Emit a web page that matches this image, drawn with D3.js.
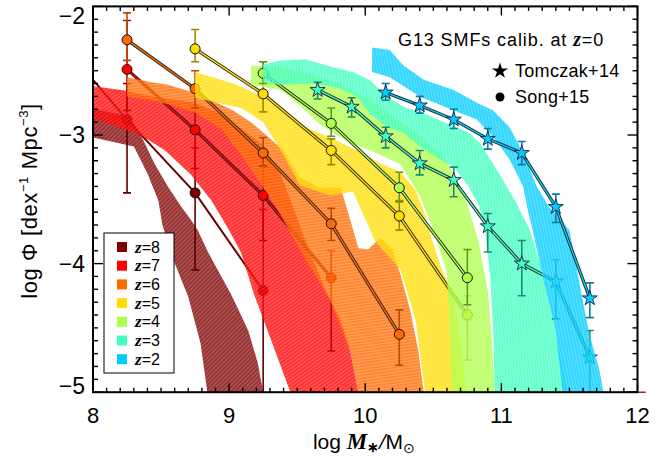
<!DOCTYPE html>
<html><head><meta charset="utf-8">
<script src="https://cdnjs.cloudflare.com/ajax/libs/d3/7.8.5/d3.min.js"></script>
<style>body{margin:0;background:#fff}svg{display:block}</style>
</head><body><svg id="c" width="672" height="461"></svg>
<script>
// ---------- DATA ----------
const redshifts = [8, 7, 6, 5, 4, 3, 2];
const zColors   = ['#800000', '#ff0000', '#ff6a00', '#ffdd00', '#adff48', '#40ffc0', '#00ccff'];
const errColors = ['#5a0000', '#cc0000', '#b84a00', '#a08a00', '#5f9a1e', '#1f8a70', '#0a7ea0'];
const xTicks = [8, 9, 10, 11, 12];
const yTicks = [-2, -3, -4, -5];

// G13 model bands: [logM, logPhi] for upper and lower edges
const band8Upper = [[7.9,-2.78],[8.00,-2.80],[8.21,-2.84],[8.30,-2.91],[8.37,-3.04],[8.45,-3.22],[8.55,-3.40],[8.65,-3.56],[8.72,-3.66],[8.77,-3.74],[8.84,-3.90],[8.89,-4.00],[9.01,-4.23],[9.06,-4.34],[9.14,-4.52],[9.21,-4.77],[9.25,-5.00],[9.27,-5.10]];
const band8Lower = [[7.9,-3.00],[8.00,-3.02],[8.30,-3.09],[8.40,-3.30],[8.48,-3.51],[8.51,-3.70],[8.59,-3.97],[8.70,-4.26],[8.79,-4.62],[8.84,-5.00],[8.86,-5.10]];
const band7Upper = [[7.9,-2.61],[8.00,-2.62],[8.21,-2.65],[8.43,-2.70],[8.75,-2.75],[8.90,-2.82],[9.09,-2.95],[9.25,-3.08],[9.38,-3.31],[9.49,-3.62],[9.60,-3.93],[9.71,-4.21],[9.82,-4.44],[9.89,-4.68],[9.95,-5.00],[9.96,-5.10]];
const band7Lower = [[7.9,-2.88],[8.00,-2.87],[8.35,-3.00],[8.53,-3.12],[8.72,-3.31],[8.87,-3.51],[9.00,-3.74],[9.09,-3.92],[9.18,-4.23],[9.30,-4.57],[9.45,-5.00],[9.47,-5.10]];
const band6Upper = [[8.25,-2.55],[8.43,-2.59],[8.55,-2.61],[8.74,-2.67],[8.87,-2.73],[9.03,-2.81],[9.16,-2.90],[9.25,-2.98],[9.40,-3.12],[9.52,-3.33],[9.67,-3.41],[9.82,-3.41],[9.89,-3.66],[9.95,-3.88],[10.02,-3.89],[10.11,-3.80],[10.20,-3.89],[10.26,-4.09],[10.33,-4.36],[10.39,-4.68],[10.43,-5.00],[10.44,-5.10]];
const band6Lower = [[8.25,-2.70],[8.43,-2.73],[8.55,-2.76],[8.74,-2.82],[8.94,-2.95],[9.09,-3.16],[9.18,-3.30],[9.33,-3.53],[9.52,-3.89],[9.74,-4.28],[9.89,-4.68],[9.95,-5.00],[9.96,-5.10]];
const band5Upper = [[8.75,-2.51],[9.03,-2.60],[9.25,-2.70],[9.38,-2.78],[9.52,-2.92],[9.74,-3.02],[9.96,-3.13],[10.11,-3.22],[10.26,-3.29],[10.37,-3.43],[10.44,-3.62],[10.48,-3.78],[10.55,-4.01],[10.65,-4.26],[10.72,-4.73],[10.74,-5.00],[10.75,-5.10]];
const band5Lower = [[8.75,-2.71],[9.09,-2.79],[9.25,-2.90],[9.38,-3.12],[9.52,-3.39],[9.74,-3.47],[9.91,-3.44],[10.07,-3.82],[10.26,-4.05],[10.37,-4.44],[10.44,-5.00],[10.45,-5.10]];
const band4Upper = [[9.16,-2.46],[9.38,-2.47],[9.60,-2.53],[9.82,-2.61],[10.04,-2.73],[10.22,-2.87],[10.40,-3.00],[10.59,-3.19],[10.73,-3.47],[10.83,-3.82],[10.90,-4.21],[10.93,-4.60],[10.95,-5.00],[10.96,-5.10]];
const band4Lower = [[9.16,-2.61],[9.38,-2.65],[9.52,-2.77],[9.67,-2.92],[9.85,-3.04],[10.04,-3.12],[10.26,-3.23],[10.40,-3.47],[10.50,-3.74],[10.60,-4.07],[10.62,-4.52],[10.64,-5.00],[10.65,-5.10]];
const band3Upper = [[9.25,-2.45],[9.38,-2.42],[9.56,-2.41],[9.79,-2.48],[9.91,-2.51],[10.03,-2.57],[10.16,-2.70],[10.28,-2.78],[10.43,-2.83],[10.60,-2.91],[10.76,-2.98],[10.84,-3.06],[10.92,-3.19],[10.99,-3.31],[11.10,-3.51],[11.21,-3.74],[11.32,-4.13],[11.40,-4.52],[11.48,-5.00],[11.49,-5.10]];
const band3Lower = [[9.25,-2.59],[9.38,-2.61],[9.60,-2.60],[9.79,-2.63],[9.94,-2.70],[10.03,-2.83],[10.16,-2.94],[10.28,-2.98],[10.40,-3.09],[10.52,-3.17],[10.65,-3.25],[10.76,-3.40],[10.84,-3.56],[10.88,-3.74],[10.92,-4.13],[10.94,-4.52],[10.95,-5.00],[10.96,-5.10]];
const band2Upper = [[10.05,-2.32],[10.18,-2.34],[10.28,-2.46],[10.43,-2.57],[10.65,-2.65],[10.82,-2.75],[10.94,-2.81],[11.06,-2.94],[11.16,-3.14],[11.26,-3.40],[11.35,-3.56],[11.50,-3.74],[11.57,-4.13],[11.64,-4.52],[11.72,-4.83],[11.75,-5.00],[11.76,-5.10]];
const band2Lower = [[10.05,-2.51],[10.18,-2.55],[10.40,-2.70],[10.65,-2.81],[10.82,-2.88],[10.96,-3.04],[11.06,-3.19],[11.16,-3.40],[11.20,-3.61],[11.23,-3.74],[11.31,-4.13],[11.40,-4.52],[11.45,-5.00],[11.46,-5.10]];

// Song+15 points: [logM, logPhi, errUpper, errLower]
const songZ8 = [[7.75,-2.26,null,null],[8.25,-2.88,-2.60,-3.45],[8.75,-3.45,-3.10,-4.05],[9.25,-4.21,-3.58,-5.50]];
const songZ7 = [[8.25,-2.49,-2.11,-2.81],[8.75,-2.96,-2.78,-3.26],[9.25,-3.47,-3.25,-3.82],[9.75,-4.11,-3.90,-4.68]];
const songZ6 = [[8.25,-2.26,-2.05,-2.42],[8.75,-2.64,-2.50,-2.79],[9.25,-3.14,-3.02,-3.24],[9.75,-3.69,-3.57,-3.82],[10.25,-4.55,-4.36,-4.79]];
const songZ5 = [[8.75,-2.33,-2.18,-2.43],[9.25,-2.68,-2.43,-2.82],[9.75,-3.12,-3.03,-3.23],[10.25,-3.63,-3.51,-3.74],[10.75,-4.40,-4.25,-4.75]];
const songZ4 = [[9.25,-2.52,-2.43,-2.60],[9.75,-2.91,-2.79,-3.01],[10.25,-3.41,-3.29,-3.52],[10.75,-4.11,-3.89,-4.32]];
// Tomczak+14 points
const tomczakZ3 = [[9.65,-2.65,-2.59,-2.72],[9.90,-2.78,-2.71,-2.86],[10.15,-3.01,-2.94,-3.10],[10.40,-3.22,-3.12,-3.31],[10.65,-3.35,-3.25,-3.48],[10.90,-3.71,-3.61,-3.91],[11.15,-4.00,-3.82,-4.25],[11.40,-4.14,-3.97,-4.43],[11.65,-4.73,-4.52,-5.50]];
const tomczakZ2 = [[10.15,-2.67,-2.60,-2.73],[10.40,-2.77,-2.70,-2.83],[10.65,-2.88,-2.80,-2.95],[10.90,-3.03,-2.95,-3.11],[11.15,-3.14,-3.05,-3.23],[11.40,-3.56,-3.46,-3.68],[11.65,-4.27,-4.15,-4.42]];

const bands = {8:[band8Upper,band8Lower],7:[band7Upper,band7Lower],6:[band6Upper,band6Lower],5:[band5Upper,band5Lower],4:[band4Upper,band4Lower],3:[band3Upper,band3Lower],2:[band2Upper,band2Lower]};
const songData = {8:songZ8,7:songZ7,6:songZ6,5:songZ5,4:songZ4};
const tomczakData = {3:tomczakZ3,2:tomczakZ2};
const hatchAngle = {8:45,7:55,6:82,5:72,4:50,3:-8,2:-12};

// ---------- DRAW ----------
const svg = d3.select('#c');
const x = d3.scaleLinear().domain([8,12]).range([93,637.5]);
const y = d3.scaleLinear().domain([-2,-5]).range([6.4,392.2]);
const sans = "'Liberation Sans', Arial, Helvetica, sans-serif";
const serif = "'Liberation Serif', 'Times New Roman', serif";

const defs = svg.append('defs');
defs.append('clipPath').attr('id','clip').append('rect')
  .attr('x',x(8)).attr('y',y(-2)).attr('width',x(12)-x(8)).attr('height',y(-5)-y(-2));

redshifts.forEach((z,i)=>{
  const p = defs.append('pattern').attr('id','hatch'+z).attr('patternUnits','userSpaceOnUse')
    .attr('width',3).attr('height',3).attr('patternTransform','rotate('+hatchAngle[z]+')');
  p.append('rect').attr('width',3).attr('height',3).attr('fill',zColors[i]);
  p.append('rect').attr('width',1).attr('height',3).attr('fill','#fff').attr('fill-opacity',0.22);
});

const plot = svg.append('g').attr('clip-path','url(#clip)');
const line = d3.line().x(d=>x(d[0])).y(d=>y(d[1]));

function drawSeries(data, i, symbol){
  const col = zColors[i], ecol = errColors[i];
  if (i === 0) {
    plot.append('path').attr('d',line(data)).attr('fill','none').attr('stroke','#6a0000').attr('stroke-width',2);
  } else {
    plot.append('path').attr('d',line(data)).attr('fill','none').attr('stroke','#222').attr('stroke-width',3.2);
    plot.append('path').attr('d',line(data)).attr('fill','none').attr('stroke',col).attr('stroke-width',1.4);
  }
  const eb = plot.append('g').attr('stroke',ecol).attr('stroke-width',1.6).attr('fill','none');
  data.filter(d=>d[2]!==null).forEach(d=>{
    const cx = x(d[0]);
    eb.append('line').attr('x1',cx).attr('x2',cx).attr('y1',y(d[2])).attr('y2',y(d[3]));
    eb.append('line').attr('x1',cx-4).attr('x2',cx+4).attr('y1',y(d[2])).attr('y2',y(d[2]));
    eb.append('line').attr('x1',cx-4).attr('x2',cx+4).attr('y1',y(d[3])).attr('y2',y(d[3]));
  });
  if (symbol === 'circle') {
    plot.append('g').selectAll('circle').data(data).join('circle')
      .attr('cx',d=>x(d[0])).attr('cy',d=>y(d[1])).attr('r',5)
      .attr('fill',col).attr('stroke','#111').attr('stroke-width',1);
  } else {
    plot.append('g').selectAll('path').data(data).join('path')
      .attr('d',d3.symbol(d3.symbolStar).size(70))
      .attr('transform',d=>'translate('+x(d[0])+','+y(d[1])+')')
      .attr('fill',col).attr('stroke','#124').attr('stroke-width',0.9);
  }
}

redshifts.forEach((z,i)=>{
  const [up, lo] = bands[z];
  const pts = up.concat(lo.slice().reverse());
  plot.append('path').attr('d',line(pts)+'Z').attr('fill','url(#hatch'+z+')').attr('fill-opacity',0.8).attr('stroke','none');
  if (songData[z]) drawSeries(songData[z], i, 'circle');
  if (tomczakData[z]) drawSeries(tomczakData[z], i, 'star');
});

// small artifact line at bottom right
svg.append('line').attr('x1',x(11.88)).attr('x2',x(12.06)).attr('y1',y(-5)).attr('y2',y(-5))
  .attr('stroke','#a00000').attr('stroke-width',1.3);

// ---------- AXES ----------
const ax = svg.append('g').attr('stroke','#000').attr('fill','none');
ax.append('rect').attr('x',x(8)).attr('y',y(-2)).attr('width',x(12)-x(8)).attr('height',y(-5)-y(-2)).attr('stroke-width',2);
const xMinor = d3.range(80,121).map(v=>v/10);
xMinor.forEach(v=>{
  const major = Math.abs(v-Math.round(v))<1e-6;
  const L = major?9:4.5;
  ax.append('line').attr('x1',x(v)).attr('x2',x(v)).attr('y1',y(-5)).attr('y2',y(-5)-L).attr('stroke-width',1.4);
  ax.append('line').attr('x1',x(v)).attr('x2',x(v)).attr('y1',y(-2)).attr('y2',y(-2)+L).attr('stroke-width',1.4);
});
const yMinor = d3.range(-50,-19).map(v=>v/10);
yMinor.forEach(v=>{
  const major = Math.abs(v-Math.round(v))<1e-6;
  const L = major?10:5;
  ax.append('line').attr('x1',x(8)).attr('x2',x(8)+L).attr('y1',y(v)).attr('y2',y(v)).attr('stroke-width',1.4);
  ax.append('line').attr('x1',x(12)).attr('x2',x(12)-L).attr('y1',y(v)).attr('y2',y(v)).attr('stroke-width',1.4);
});

const txt = svg.append('g').attr('fill','#000').attr('font-family',sans);
xTicks.forEach(v=>{
  txt.append('text').attr('x',x(v)).attr('y',423).attr('text-anchor','middle').attr('font-size',22).text(v);
});
yTicks.forEach(v=>{
  const dy = v===-2?9:(v===-5?-6:0);
  txt.append('text').attr('x',85).attr('y',y(v)+dy).attr('dy','0.36em').attr('text-anchor','end').attr('font-size',23).text('\u2212'+Math.abs(v));
});

// x title
const xt = txt.append('text').attr('x',364).attr('y',449).attr('text-anchor','middle').attr('font-size',21);
xt.append('tspan').text('log ');
xt.append('tspan').attr('font-family',serif).attr('font-weight','bold').attr('font-style','italic').attr('font-size',23).text('M');
xt.append('tspan').attr('font-family',serif).attr('font-weight','bold').attr('font-size',14).attr('dy',3).text('\u2217');
xt.append('tspan').attr('font-family',serif).attr('font-weight','bold').attr('font-style','italic').attr('font-size',23).attr('dy',-3).text('/');
xt.append('tspan').text('M');
xt.append('tspan').attr('font-size',14).attr('dy',4).text('\u2299');

// y title
const yt = txt.append('text').attr('transform','translate(37,201) rotate(-90)').attr('text-anchor','middle').attr('font-size',22).attr('letter-spacing',0.6);
yt.append('tspan').text('log \u03A6 [dex');
yt.append('tspan').attr('font-size',13).attr('dy',-9).text('\u22121');
yt.append('tspan').attr('dy',9).text(' Mpc');
yt.append('tspan').attr('font-size',13).attr('dy',-9).text('\u22123');
yt.append('tspan').attr('dy',9).text(']');

// top-right annotations
const t1 = txt.append('text').attr('x',398).attr('y',46).attr('font-size',18).attr('letter-spacing',0.9);
t1.append('tspan').text('G13 SMFs calib. at ');
t1.append('tspan').attr('font-family',serif).attr('font-weight','bold').attr('font-style','italic').attr('font-size',20).text('z');
t1.append('tspan').text('=0');
svg.append('path').attr('d',d3.symbol(d3.symbolStar).size(80)).attr('transform','translate(500,71)').attr('fill','#000');
txt.append('text').attr('x',515).attr('y',77).attr('font-size',18).attr('letter-spacing',0.3).text('Tomczak+14');
svg.append('circle').attr('cx',500).attr('cy',97).attr('r',4.5).attr('fill','#000');
txt.append('text').attr('x',515).attr('y',103).attr('font-size',18).attr('letter-spacing',0.3).text('Song+15');

// legend
const leg = svg.append('g');
leg.append('rect').attr('x',104).attr('y',233).attr('width',70).attr('height',140).attr('fill','#fff').attr('stroke','#000').attr('stroke-width',1);
redshifts.forEach((z,i)=>{
  const cy = 247 + i*18.7;
  leg.append('rect').attr('x',117).attr('y',cy-5).attr('width',10).attr('height',10).attr('fill',zColors[i]);
  const t = leg.append('text').attr('x',135).attr('y',cy+5.5).attr('font-size',16).attr('font-family',sans).attr('fill','#000');
  t.append('tspan').attr('font-family',serif).attr('font-weight','bold').attr('font-style','italic').attr('font-size',17).text('z');
  t.append('tspan').text('='+z);
});
</script></body></html>
